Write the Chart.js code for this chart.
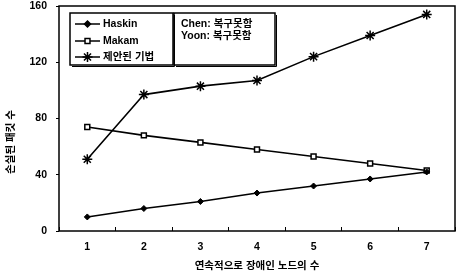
<!DOCTYPE html>
<html><head><meta charset="utf-8">
<script src="https://cdn.jsdelivr.net/npm/chart.js@4/dist/chart.umd.min.js"></script>
<style>html,body{margin:0;padding:0;background:#fff}#wrap{width:457px;height:274px;position:relative}</style>
</head><body><div id="wrap"><canvas id="c" width="457" height="274"></canvas></div>
<script>
const categories = ['1','2','3','4','5','6','7'];
const haskin = [10, 16, 21, 27, 32, 37, 42];
const makam = [74, 68, 63, 58, 53, 48, 43];
const proposed = [51, 97, 103, 107, 124, 139, 154];
const seriesNames = ['Haskin', 'Makam', '제안된 기법'];
const noteLines = ['Chen: 복구못함', 'Yoon: 복구못함'];
const yTitle = '손실된 패킷 수';
const xTitle = '연속적으로 장애인 노드의 수';

const FONT = '"Liberation Sans", "Noto Sans CJK KR", sans-serif';

const extras = {
  id: 'extras',
  afterDraw(chart) {
    const ctx = chart.ctx, a = chart.chartArea;
    ctx.save();
    ctx.strokeStyle = '#000';
    ctx.lineWidth = 1.5;
    ctx.strokeRect(a.left, a.top, a.right - a.left, a.bottom - a.top);
    function box(x1, y1, x2, y2) {
      ctx.lineWidth = 1.5;
      ctx.strokeRect(x1, y1, x2 - x1, y2 - y1);
      ctx.lineWidth = 1;
      ctx.beginPath();
      ctx.moveTo(x2 + 1.5, y1 + 2); ctx.lineTo(x2 + 1.5, y2 + 1.5); ctx.lineTo(x1 + 2, y2 + 1.5);
      ctx.stroke();
    }
    ctx.fillStyle = '#fff';
    ctx.fillRect(70, 13, 205, 53);
    box(70, 13, 173, 65);
    box(174, 13, 275, 65);
    ctx.fillStyle = '#000';
    ctx.textBaseline = 'middle';
    ctx.textAlign = 'left';
    ctx.font = 'bold 10.5px ' + FONT;
    const rows = [24, 41, 57];
    chart.data.datasets.forEach((ds, i) => {
      const y = rows[i];
      ctx.lineWidth = 1.5;
      ctx.strokeStyle = '#000';
      ctx.beginPath(); ctx.moveTo(75, y); ctx.lineTo(100, y); ctx.stroke();
      ctx.fillStyle = ds.pointBackgroundColor;
      Chart.helpers.drawPoint(ctx, {
        pointStyle: ds.pointStyle, radius: ds.pointRadius, borderWidth: ds.pointBorderWidth || 1.2
      }, 87.5, y);
      ctx.fillStyle = '#000';
      ctx.fillText(ds.label, 103, y + 0.5);
    });
    ctx.fillText(noteLines[0], 181, 24);
    ctx.fillText(noteLines[1], 181, 36);
    ctx.save();
    ctx.translate(11, 142);
    ctx.rotate(-Math.PI / 2);
    ctx.textAlign = 'center';
    ctx.fillText(yTitle, 0, 0);
    ctx.restore();
    ctx.restore();
  }
};

new Chart(document.getElementById('c'), {
  type: 'line',
  data: {
    labels: categories,
    datasets: [
      { label: seriesNames[0], data: haskin, borderColor: '#000', borderWidth: 1.6,
        pointStyle: 'rectRot', pointRadius: 3, pointBackgroundColor: '#000', pointBorderColor: '#000', pointBorderWidth: 1, tension: 0 },
      { label: seriesNames[1], data: makam, borderColor: '#000', borderWidth: 1.6,
        pointStyle: 'rect', pointRadius: 3.5, pointBackgroundColor: '#fff', pointBorderColor: '#000', pointBorderWidth: 1.5, tension: 0 },
      { label: seriesNames[2], data: proposed, borderColor: '#000', borderWidth: 1.6,
        pointStyle: 'star', pointRadius: 5, pointBackgroundColor: '#000', pointBorderColor: '#000', pointBorderWidth: 1.5, tension: 0 }
    ]
  },
  options: {
    responsive: false,
    animation: false,
    events: [],
    layout: { autoPadding: false, padding: { left: 0, right: 2, top: 6, bottom: 0 } },
    plugins: { legend: { display: false }, tooltip: { enabled: false } },
    scales: {
      x: {
        offset: true,
        afterFit(s) { s.height = 43; s.paddingLeft = 0; s.paddingRight = 0; },
        grid: { offset: true, drawOnChartArea: false, drawTicks: true, tickLength: -4, color: '#000', lineWidth: 1 },
        border: { display: false },
        ticks: { color: '#000', font: { family: FONT, size: 10.5, weight: 'bold' }, padding: 14 },
        title: { display: true, text: xTitle, color: '#000', font: { family: FONT, size: 10.5, weight: 'bold' }, padding: { top: 0, bottom: 2 } }
      },
      y: {
        min: 0, max: 160,
        afterFit(s) { s.width = 59; s.paddingTop = 0; s.paddingBottom = 0; },
        grid: { drawOnChartArea: false, tickLength: 3, color: '#000' },
        border: { display: false },
        ticks: { stepSize: 40, color: '#000', font: { family: FONT, size: 10.5, weight: 'bold' }, padding: 9 }
      }
    }
  },
  plugins: [extras]
});
</script></body></html>
